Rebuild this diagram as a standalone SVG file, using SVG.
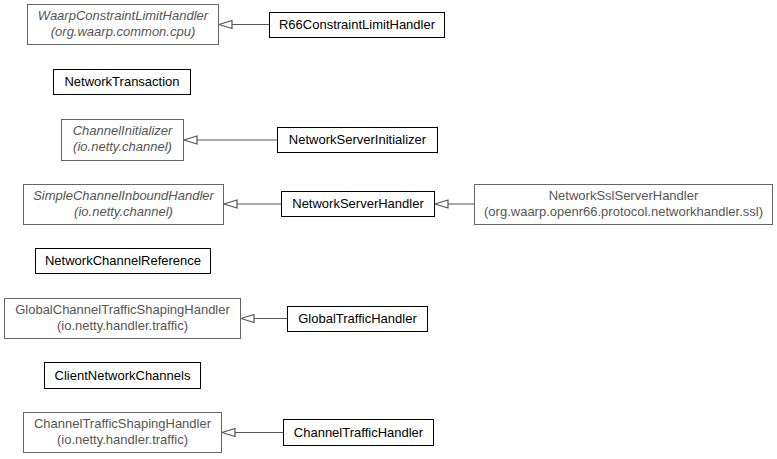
<svg xmlns="http://www.w3.org/2000/svg" width="777" height="459" viewBox="0 0 777 459">
<style>
text{font-family:"Liberation Sans",Arial,sans-serif;font-size:13px;text-anchor:middle}
.n rect{fill:#fff;stroke:#000;stroke-width:1}
.n text{fill:#000}
.g rect{fill:#fff;stroke:#666;stroke-width:1}
.g text{fill:#555}
.i text{font-style:italic}
.e{stroke:#555;stroke-width:1.2;fill:none;marker-end:url(#tri)}
</style>
<defs>
<marker id="tri" viewBox="0 0 15 10" refX="14" refY="5" markerWidth="15" markerHeight="10" markerUnits="userSpaceOnUse" orient="auto">
<path d="M1,1 L14,5 L1,9 Z" fill="#fff" stroke="#555" stroke-width="1.2"/>
</marker>
</defs>
<rect width="777" height="459" fill="#fff"/>
<g id="edges">
<line class="e" x1="269" y1="24.5" x2="219" y2="24.5"/>
<line class="e" x1="277" y1="140" x2="184" y2="140"/>
<line class="e" x1="281" y1="204" x2="224" y2="204"/>
<line class="e" x1="474" y1="204" x2="435" y2="204"/>
<line class="e" x1="287" y1="318.5" x2="241" y2="318.5"/>
<line class="e" x1="283" y1="432.5" x2="222" y2="432.5"/>
</g>
<g id="WaarpConstraintLimitHandler" class="g i"><rect x="27.5" y="4.5" width="191" height="40"/><text x="123" y="20">WaarpConstraintLimitHandler</text><text x="123" y="36">(org.waarp.common.cpu)</text></g>
<g id="R66ConstraintLimitHandler" class="n"><rect x="269.5" y="12.5" width="175" height="25"/><text x="357" y="29">R66ConstraintLimitHandler</text></g>
<g id="NetworkTransaction" class="n"><rect x="53.5" y="69.5" width="137" height="25"/><text x="122" y="86">NetworkTransaction</text></g>
<g id="ChannelInitializer" class="g i"><rect x="61.5" y="119.5" width="122" height="41"/><text x="122.5" y="135">ChannelInitializer</text><text x="122.5" y="151">(io.netty.channel)</text></g>
<g id="NetworkServerInitializer" class="n"><rect x="277.5" y="127.5" width="160" height="25"/><text x="357.5" y="144">NetworkServerInitializer</text></g>
<g id="SimpleChannelInboundHandler" class="g i"><rect x="23.5" y="184.5" width="200" height="40"/><text x="123.5" y="200">SimpleChannelInboundHandler</text><text x="123.5" y="216">(io.netty.channel)</text></g>
<g id="NetworkServerHandler" class="n"><rect x="281.5" y="191.5" width="153" height="25"/><text x="358" y="208">NetworkServerHandler</text></g>
<g id="NetworkSslServerHandler" class="g"><rect x="474.5" y="184.5" width="298" height="40"/><text x="623.5" y="200">NetworkSslServerHandler</text><text x="623.5" y="216">(org.waarp.openr66.protocol.networkhandler.ssl)</text></g>
<g id="NetworkChannelReference" class="n"><rect x="35.5" y="248.5" width="175" height="25"/><text x="123" y="265">NetworkChannelReference</text></g>
<g id="GlobalChannelTrafficShapingHandler" class="g"><rect x="4.5" y="298.5" width="236" height="40"/><text x="122.5" y="314">GlobalChannelTrafficShapingHandler</text><text x="122.5" y="330">(io.netty.handler.traffic)</text></g>
<g id="GlobalTrafficHandler" class="n"><rect x="287.5" y="306.5" width="140" height="25"/><text x="357.5" y="323">GlobalTrafficHandler</text></g>
<g id="ClientNetworkChannels" class="n"><rect x="44.5" y="362.5" width="156" height="26"/><text x="122.5" y="380">ClientNetworkChannels</text></g>
<g id="ChannelTrafficShapingHandler" class="g"><rect x="23.5" y="412.5" width="198" height="40"/><text x="122.5" y="428">ChannelTrafficShapingHandler</text><text x="122.5" y="444">(io.netty.handler.traffic)</text></g>
<g id="ChannelTrafficHandler" class="n"><rect x="283.5" y="419.5" width="150" height="26"/><text x="358.5" y="437">ChannelTrafficHandler</text></g>
</svg>
